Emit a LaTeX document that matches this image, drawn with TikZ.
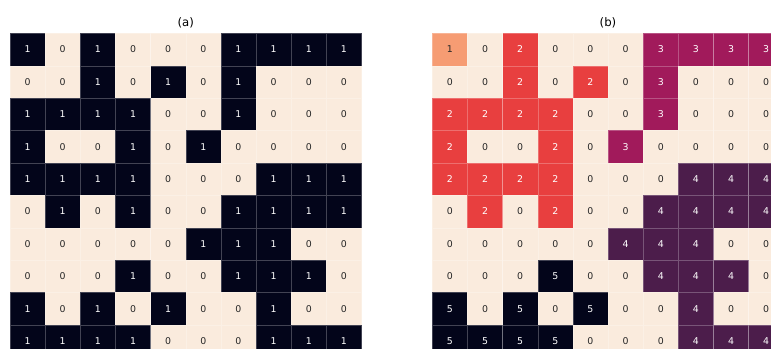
\documentclass[tikz,border=0pt]{standalone}
\usepackage{fontspec}
\setmainfont{DejaVu Sans}
\definecolor{heat0}{HTML}{FAEBDD}
\definecolor{heat1}{HTML}{F69C73}
\definecolor{heat2}{HTML}{E83F3F}
\definecolor{heat3}{HTML}{A11A5B}
\definecolor{heat4}{HTML}{4C1D4B}
\definecolor{heat5}{HTML}{03051A}
\definecolor{darktxt}{HTML}{262626}
\tikzset{
    cell/.style={rectangle, draw=white, draw opacity=0.25, line width=0.3pt,
        inner sep=0pt, minimum width=1.0545cm, minimum height=0.972cm,
        font=\fontsize{8}{8}\selectfont},
    title/.style={font=\fontsize{10}{10}\selectfont},
}
\begin{document}
\begin{tikzpicture}[x=0.03cm, y=-0.03cm]
    \def\cw{35.15}
    \def\ch{32.4}
    \useasboundingbox (0,0) rectangle (771,349);
    \clip (0,0) rectangle (771,349);
    % Titles
    \node[title] (ta) at (185.75,23) {(a)};
    \node[title] (tb) at (608,23) {(b)};
    % Grid (a)
    \foreach \vals [count=\ri from 0] in {
        {1,0,1,0,0,0,1,1,1,1}, {0,0,1,0,1,0,1,0,0,0},
        {1,1,1,1,0,0,1,0,0,0}, {1,0,0,1,0,1,0,0,0,0},
        {1,1,1,1,0,0,0,1,1,1}, {0,1,0,1,0,0,1,1,1,1},
        {0,0,0,0,0,1,1,1,0,0}, {0,0,0,1,0,0,1,1,1,0},
        {1,0,1,0,1,0,0,1,0,0}, {1,1,1,1,0,0,0,1,1,1}} {
        \foreach \v [count=\ci from 0] in \vals {
            \pgfmathtruncatemacro\k{5*\v}
            \ifnum\k>1 \def\tc{white}\else\def\tc{darktxt}\fi
            \node[cell, fill=heat\k, text=\tc] (a-\ri-\ci)
                at (10+\cw*\ci+\cw/2, 33.3+\ch*\ri+\ch/2) {\v};
        }
    }
    % Grid (b)
    \foreach \vals [count=\ri from 0] in {
        {1,0,2,0,0,0,3,3,3,3}, {0,0,2,0,2,0,3,0,0,0},
        {2,2,2,2,0,0,3,0,0,0}, {2,0,0,2,0,3,0,0,0,0},
        {2,2,2,2,0,0,0,4,4,4}, {0,2,0,2,0,0,4,4,4,4},
        {0,0,0,0,0,4,4,4,0,0}, {0,0,0,5,0,0,4,4,4,0},
        {5,0,5,0,5,0,0,4,0,0}, {5,5,5,5,0,0,0,4,4,4}} {
        \foreach \v [count=\ci from 0] in \vals {
            \ifnum\v>1 \def\tc{white}\else\def\tc{darktxt}\fi
            \node[cell, fill=heat\v, text=\tc] (b-\ri-\ci)
                at (432.3+\cw*\ci+\cw/2, 33.3+\ch*\ri+\ch/2) {\v};
        }
    }
\end{tikzpicture}
\end{document}
